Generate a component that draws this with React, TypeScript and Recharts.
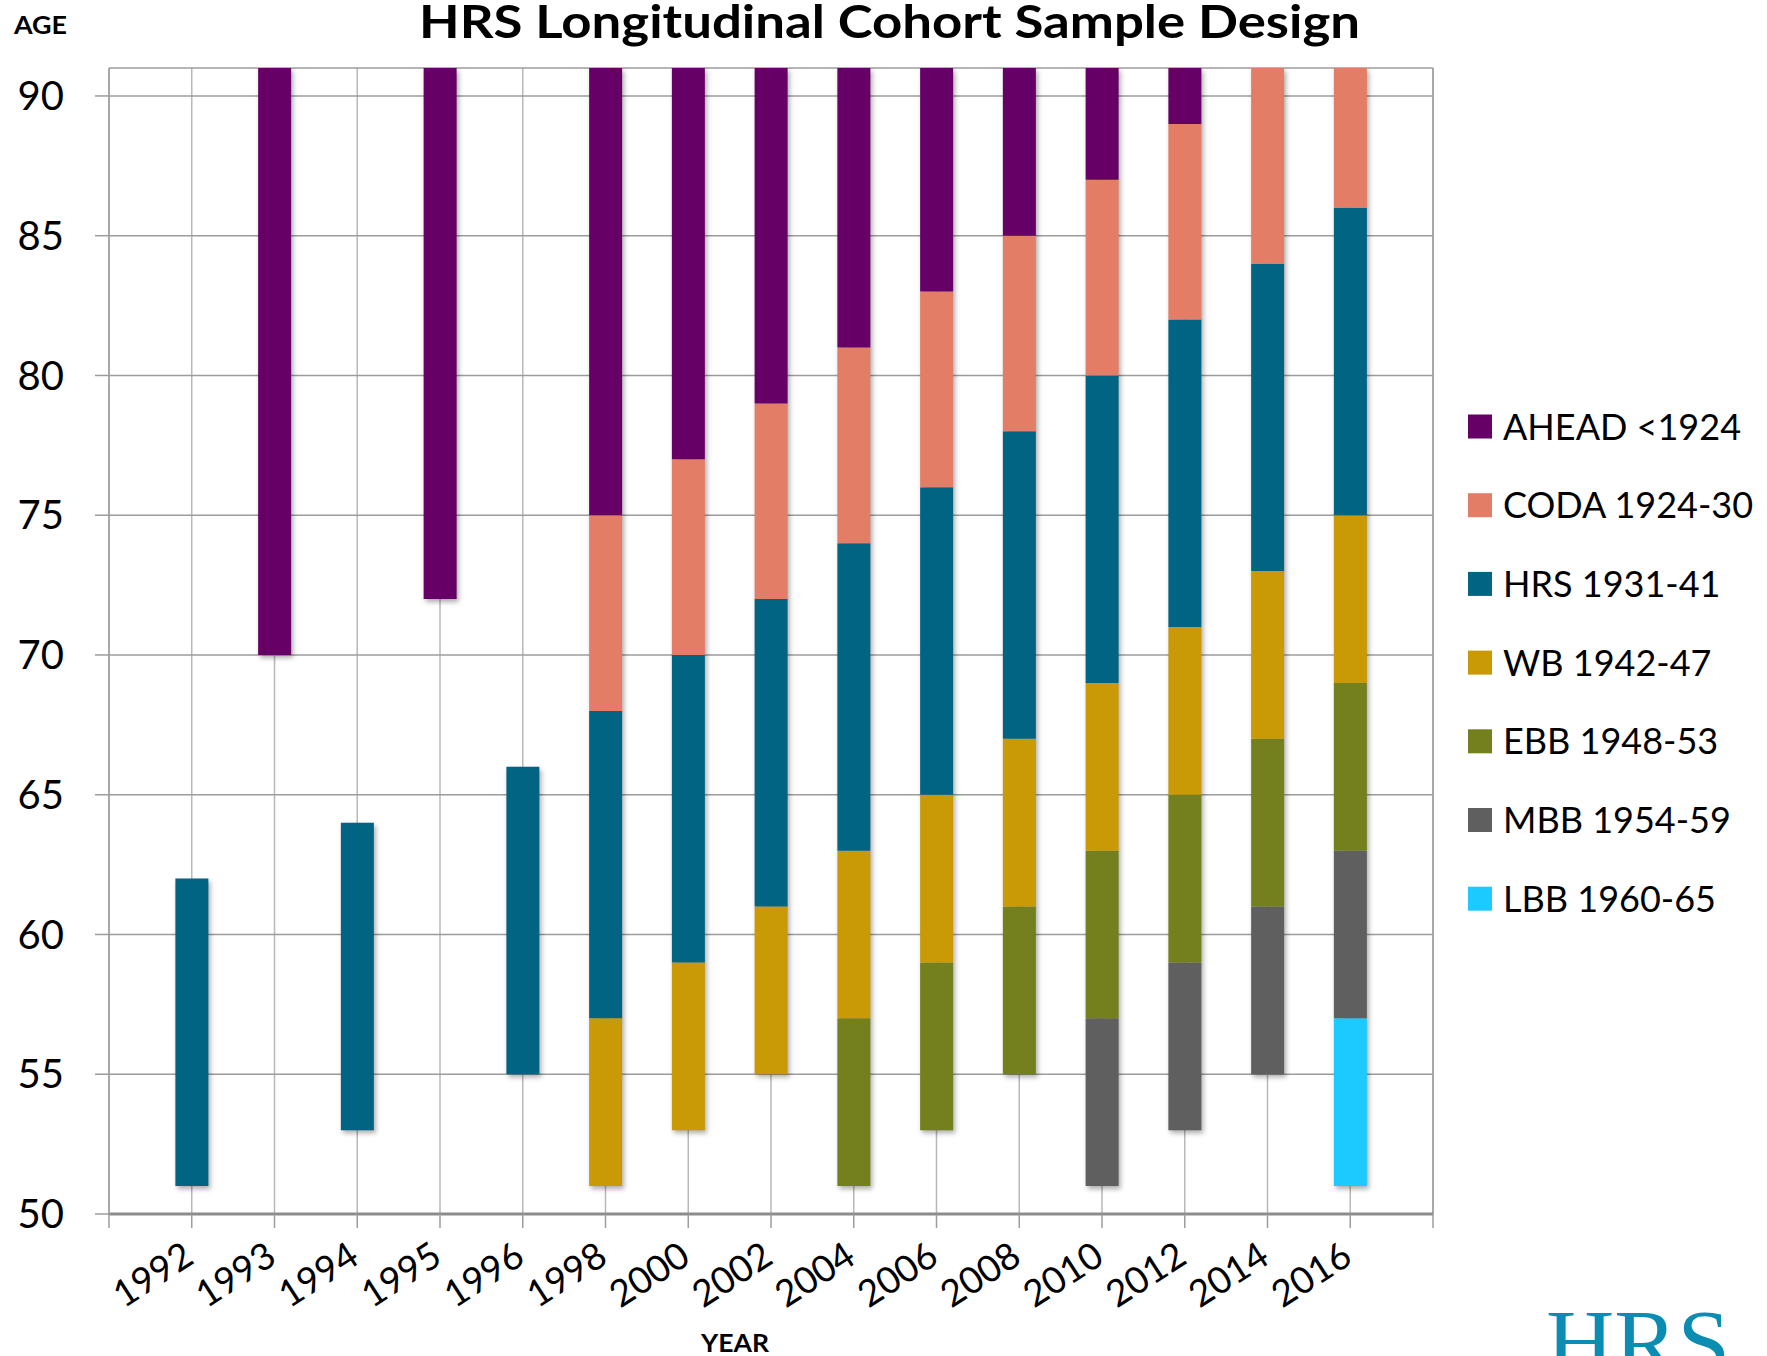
import React from "react"
import { BarChart, Bar, XAxis, YAxis, CartesianGrid, ReferenceLine } from "recharts"

type Range = [number, number] | null

const YEARS = ["1992", "1993", "1994", "1995", "1996", "1998", "2000", "2002", "2004", "2006", "2008", "2010", "2012", "2014", "2016"]

// age span of each cohort in each wave (null = not in the sample that year)
const AHEAD: Range[] = [null, [70, 91], null, [72, 91], null, [75, 91], [77, 91], [79, 91], [81, 91], [83, 91], [85, 91], [87, 91], [89, 91], null, null]
const CODA: Range[] = [null, null, null, null, null, [68, 75], [70, 77], [72, 79], [74, 81], [76, 83], [78, 85], [80, 87], [82, 89], [84, 91], [86, 91]]
const HRS: Range[] = [[51, 62], null, [53, 64], null, [55, 66], [57, 68], [59, 70], [61, 72], [63, 74], [65, 76], [67, 78], [69, 80], [71, 82], [73, 84], [75, 86]]
const WB: Range[] = [null, null, null, null, null, [51, 57], [53, 59], [55, 61], [57, 63], [59, 65], [61, 67], [63, 69], [65, 71], [67, 73], [69, 75]]
const EBB: Range[] = [null, null, null, null, null, null, null, null, [51, 57], [53, 59], [55, 61], [57, 63], [59, 65], [61, 67], [63, 69]]
const MBB: Range[] = [null, null, null, null, null, null, null, null, null, null, null, [51, 57], [53, 59], [55, 61], [57, 63]]
const LBB: Range[] = [null, null, null, null, null, null, null, null, null, null, null, null, null, null, [51, 57]]

const AGE_DOMAIN = [50, 91]
const AGE_TICKS = [50, 55, 60, 65, 70, 75, 80, 85, 90]

// bottom to top of each stack
const COHORTS = [
  { key: "lbb", name: "LBB 1960-65", color: "#1DCAFF", ranges: LBB },
  { key: "mbb", name: "MBB 1954-59", color: "#5F5F5F", ranges: MBB },
  { key: "ebb", name: "EBB 1948-53", color: "#73801D", ranges: EBB },
  { key: "wb", name: "WB 1942-47", color: "#C99A05", ranges: WB },
  { key: "hrs", name: "HRS 1931-41", color: "#006482", ranges: HRS },
  { key: "coda", name: "CODA 1924-30", color: "#E37D65", ranges: CODA },
  { key: "ahead", name: "AHEAD <1924", color: "#660066", ranges: AHEAD },
]

const chartData = YEARS.map((year, i) => {
  const row: Record<string, number | string> = { idx: i, year }
  const present = COHORTS.map((c) => c.ranges[i]).filter((r): r is [number, number] => r !== null)
  row.base = Math.min(...present.map((r) => r[0]))
  row.top = Math.max(...present.map((r) => r[1]))
  COHORTS.forEach((c) => {
    const r = c.ranges[i]
    row[c.key] = r ? r[1] - r[0] : 0
  })
  return row
})

const xTicks = [-1, ...YEARS.map((_, i) => i), YEARS.length]

// invisible base segment (clamped to the axis floor); draws the drop shadow of the stack above it
function BaseShadow(props: any) {
  const { x, y, width, height, payload } = props
  if (!height || !payload) return null
  const unit = height / (payload.base - AGE_DOMAIN[0])
  const h = (payload.top - payload.base) * unit
  return (
    <rect
      x={x + 2}
      y={y - h + 3}
      width={width}
      height={h}
      fill="rgba(0,0,0,0.32)"
      style={{ filter: "blur(2.5px)" }}
    />
  )
}

function YearTick(props: any) {
  const { x, y, payload } = props
  const label = YEARS[payload.value]
  if (label === undefined) return null
  return (
    <g transform={`translate(${x + 4},${y + 32})`}>
      <text textAnchor="end" transform="rotate(-33)" fontFamily="Lato" fontSize={37} fill="#000">
        {label}
      </text>
    </g>
  )
}

const legendItems = [...COHORTS].reverse()

export default function App() {
  return (
    <div style={{ position: "absolute", left: 0, top: 0, width: 1767, height: 1356, overflow: "hidden", background: "#fff" }}>
      <BarChart
        width={1767}
        height={1356}
        data={chartData}
        margin={{ top: 68, right: 334, bottom: 0, left: 0 }}
        barSize={33}
      >
        <CartesianGrid horizontal={false} stroke="#b8b8b8" strokeWidth={1.5} />
        <CartesianGrid vertical={false} stroke="#9c9c9c" strokeWidth={1.5} />
        <XAxis
          dataKey="idx"
          type="number"
          domain={[-1, YEARS.length]}
          ticks={xTicks}
          interval={0}
          height={142}
          tickSize={14}
          axisLine={{ stroke: "#8c8c8c", strokeWidth: 3 }}
          tickLine={{ stroke: "#9c9c9c", strokeWidth: 1.5 }}
          tick={<YearTick />}
        />
        <YAxis
          type="number"
          domain={AGE_DOMAIN}
          allowDataOverflow
          ticks={AGE_TICKS}
          interval={0}
          width={109}
          tickSize={14}
          tickMargin={31}
          axisLine={{ stroke: "#9c9c9c", strokeWidth: 1.5 }}
          tickLine={{ stroke: "#9c9c9c", strokeWidth: 1.5 }}
          tick={{ fontFamily: "Lato", fontSize: 40, fill: "#000" }}
        />
        <ReferenceLine x={YEARS.length} stroke="#9c9c9c" strokeWidth={1.5} />
        <Bar dataKey="base" stackId="a" fill="transparent" shape={<BaseShadow />} isAnimationActive={false} />
        {COHORTS.map((c) => (
          <Bar key={c.key} dataKey={c.key} name={c.name} stackId="a" fill={c.color} isAnimationActive={false} />
        ))}
      </BarChart>
      <svg width={1767} height={1356} style={{ position: "absolute", left: 0, top: 0, pointerEvents: "none" }}>
        <text x={889.5} y={38} textAnchor="middle" fontFamily="Lato" fontWeight={700} fontSize={45} textLength={941} lengthAdjust="spacingAndGlyphs">
          HRS Longitudinal Cohort Sample Design
        </text>
        <text x={14} y={34} fontFamily="Lato" fontWeight={700} fontSize={25} textLength={53} lengthAdjust="spacingAndGlyphs">
          AGE
        </text>
        <text x={701} y={1352} fontFamily="Lato" fontWeight={700} fontSize={24} textLength={68} lengthAdjust="spacingAndGlyphs">
          YEAR
        </text>
        {legendItems.map((c, k) => (
          <g key={c.key}>
            <rect x={1468} y={414.5 + k * 78.7} width={24} height={24} fill={c.color} />
            <text x={1503} y={439.5 + k * 78.7} fontFamily="Lato" fontSize={36} fill="#000">
              {c.name}
            </text>
          </g>
        ))}
        <text x={1546} y={1373} fontFamily="Liberation Serif" fontSize={92} fill="#0B8DB3" textLength={184} lengthAdjust="spacingAndGlyphs">
          HRS
        </text>
      </svg>
    </div>
  )
}
